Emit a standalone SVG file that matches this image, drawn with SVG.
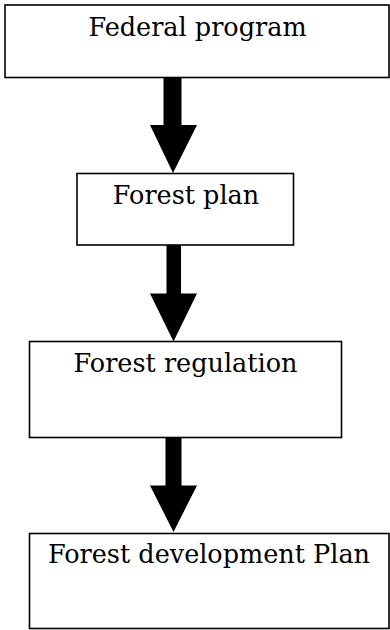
<svg xmlns="http://www.w3.org/2000/svg" width="390" height="630" viewBox="0 0 390 630">
<style>
.box{fill:#fff;stroke:#000;stroke-width:1.6}
.lbl{font-family:"DejaVu Serif","Liberation Serif",serif;font-size:25.5px;fill:#000;text-anchor:middle}
.arr{fill:#000;stroke:none}
</style>
<rect width="390" height="630" fill="#fff"/>
<g id="connectors">
<path class="arr" d="M163.5 78 H181.5 V125 H197 L173 173 L150 125 H163.5 Z"/>
<path class="arr" d="M166.5 245 H181 V293.5 H197 L173.5 341.5 L150 293.5 H166.5 Z"/>
<path class="arr" d="M165.5 437 H181.5 V485.5 H197 L173.5 532 L150 485.5 H165.5 Z"/>
</g>
<g id="federal-program">
<rect class="box" x="5" y="5" width="384" height="72.5"/>
<text class="lbl" x="197.5" y="36">Federal program</text>
</g>
<g id="forest-plan">
<rect class="box" x="77" y="173.5" width="216.5" height="71.5"/>
<text class="lbl" x="186" y="204">Forest plan</text>
</g>
<g id="forest-regulation">
<rect class="box" x="29.5" y="341.5" width="312" height="96"/>
<text class="lbl" x="185.5" y="371.5">Forest regulation</text>
</g>
<g id="forest-development-plan">
<rect class="box" x="29.5" y="533.5" width="359.5" height="95"/>
<text class="lbl" x="209" y="563">Forest development Plan</text>
</g>
</svg>
